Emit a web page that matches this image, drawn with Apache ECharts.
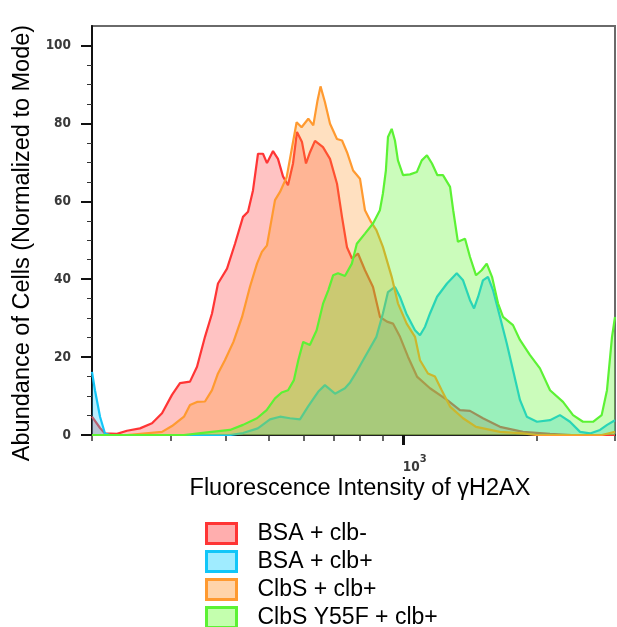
<!DOCTYPE html>
<html>
<head>
<meta charset="utf-8">
<title>Fluorescence Intensity of γH2AX</title>
<script src="https://cdn.jsdelivr.net/npm/echarts@6/dist/echarts.min.js"></script>
<style>
  html, body { margin: 0; padding: 0; background: #fff; }
  #chart { width: 617px; height: 627px; }
</style>
</head>
<body>
<div id="chart"></div>
<script>
// [intensity, % of mode]
const bsaClbMinus = [
  [200, 4.7], [208.5, 1.8], [213.9, 0.4], [227.6, 0.3], [239.7, 1.1], [256.4, 1.7], [272.9, 3.0],
  [287.4, 5.6], [302.6, 10.3], [315.4, 13.3], [332.2, 13.7], [344.5, 17.5], [359, 25.2], [372.3, 31.2],
  [384, 38.9], [402.4, 42.7], [419.4, 49.1], [437.1, 56], [448.6, 57.3], [460.3, 62.8], [472.4, 72.2],
  [484.8, 72.2], [494.9, 69.8], [510.6, 72.9], [523.9, 70.9], [537.7, 66.4], [551.8, 64.1], [566.3, 69.7],
  [578.1, 77.8], [593.3, 75.2], [605.7, 69.7], [618.4, 72.6], [634.6, 75.5], [661.4, 73.9], [685.8, 70.9],
  [711.2, 64.5], [729.8, 56], [748.9, 48.2], [768.6, 45.3], [792.8, 46.6], [822.1, 42.3], [856.9, 38],
  [888.5, 30.3], [921.3, 29.1], [950.4, 28.6], [985.5, 25.2], [1027, 20.1], [1076, 15], [1151, 12],
  [1257, 9], [1344, 6.4], [1416, 6.2], [1514, 4.3], [1654, 2.1], [1863, 0.8], [2143, 0.3], [2400, 0], [3000, 0]
]
const bsaClbPlus = [
  [200, 16.2], [203.1, 11.5], [208.5, 4.7], [213.9, 0.4], [220, 0], [408.6, 0], [437.1, 0.5], [472, 1.7],
  [502.7, 4], [529.4, 4.7], [557.5, 4.3], [587.2, 4], [612, 7.3], [645, 11.1], [668, 12.8], [704, 10.6],
  [741, 12], [761, 13.5], [785, 16], [814, 19.2], [872, 25.2], [902, 31.2], [926, 36.7], [960, 38],
  [985, 35.5], [1018, 31.2], [1065, 26.9], [1093, 25.6], [1122, 27.8], [1151, 31.2], [1194, 35.5],
  [1257, 38.9], [1322, 41.5], [1366, 39.7], [1416, 34.6], [1446, 32.5], [1477, 35.5], [1514, 39.7],
  [1554, 40.6], [1595, 37.2], [1654, 30.3], [1713, 23.5], [1769, 16.7], [1834, 9], [1900, 4.7],
  [2003, 3.4], [2143, 3.8], [2256, 5.1], [2376, 3.4], [2503, 0.8], [2636, 0.4], [2776, 1.3], [2880, 2.6], [3000, 3.8]
]
const clbsClbPlus = [
  [200, 0], [239.7, 0], [287.4, 0.8], [302.6, 2.3], [322, 4.7], [332.2, 7.7], [344.5, 8.5], [359, 8.6],
  [372.3, 11.5], [384, 15.8], [398, 19.2], [416, 23.9], [435, 30.3], [453, 38], [470, 44], [482, 47],
  [494.9, 48.7], [508, 56], [515.9, 60.3], [529.4, 62.4], [548, 66.2], [562, 73.1], [577, 80.3], [592, 79],
  [613, 81.2], [629, 79.5], [643, 85.9], [653, 89.5], [668, 85.5], [686, 79.9], [711, 76], [730, 75.6],
  [749, 72.6], [773, 67.9], [801, 65.8], [822, 57.7], [848, 54.7], [872, 52.6], [902, 48.3], [944, 40.6],
  [975, 33.8], [1020, 28.6], [1065, 25.2], [1093, 19.2], [1139, 15.8], [1181, 15], [1223, 11.5],
  [1277, 7.3], [1366, 4.3], [1461, 2.1], [1654, 0.8], [1863, 0.4], [2000, 0], [2800, 0], [3000, 0.8]
]
const y55fClbPlus = [
  [200, 0], [322, 0], [359, 0.6], [408.6, 1.3], [437.1, 2.6], [470, 4.3], [494, 6.4], [515.9, 9.4],
  [534, 10.9], [552, 11.5], [569, 14.1], [582, 19.2], [597, 23.9], [618, 23.1], [640, 26.9], [662, 33.8],
  [680, 37.2], [697, 41], [715, 41.5], [741, 40.8], [768, 44], [788, 49.1], [822, 51.7], [857, 54.3],
  [888, 57.7], [902, 62], [916, 67.9], [926, 76.5], [944, 78.6], [960, 75.6], [975, 70.5], [1001, 66.7],
  [1038, 66.9], [1075, 67.5], [1103, 70.5], [1133, 71.8], [1163, 69.7], [1196, 66.7], [1231, 66.7],
  [1277, 63.7], [1298, 57.7], [1330, 49.6], [1380, 50.4], [1416, 45.7], [1461, 41], [1504, 42.3],
  [1544, 44], [1587, 40.6], [1637, 33.8], [1680, 30.3], [1769, 28.2], [1834, 24.4], [1932, 20.5],
  [2034, 17.1], [2143, 11.5], [2292, 8.5], [2414, 5.1], [2542, 3.4], [2677, 3.4], [2800, 5.1],
  [2878, 11.5], [2954, 25.2], [3000, 30.3]
]

const seriesNames = ['BSA + clb-', 'BSA + clb+', 'ClbS + clb+', 'ClbS Y55F + clb+']
const lineColors = ['#ff3535', '#12c6f8', '#ff9a30', '#5cf234']
const fillColors = ['rgba(255,60,60,0.44)', 'rgba(20,200,255,0.44)', 'rgba(255,150,40,0.42)', 'rgba(90,245,40,0.45)']
const iconFills = ['#ffaeae', '#a0ecff', '#ffd4aa', '#c4ffae']

const xMinorTicks = [200, 300, 400, 500, 600, 700, 800, 900, 2000, 3000]
const xMajorTicks = [1000]
const yMajorTicks = [0, 20, 40, 60, 80, 100]
const yMinorTicks = [5, 10, 15, 25, 30, 35, 45, 50, 55, 65, 70, 75, 85, 90, 95]

const toLog = d => [Math.log10(d[0]), d[1]]
const xMin = Math.log10(200)
const xMax = Math.log10(3000)

const chart = echarts.init(document.getElementById('chart'))

// drawn bottom to top: red, cyan, orange, green
const allData = [bsaClbMinus, bsaClbPlus, clbsClbPlus, y55fClbPlus]

const series = allData.map((d, i) => ({
  name: seriesNames[i],
  type: 'line',
  data: d.map(toLog),
  showSymbol: false,
  smooth: false,
  z: 2 + i,
  lineStyle: { color: lineColors[i], width: 2.2 },
  itemStyle: { color: lineColors[i] },
  areaStyle: { color: fillColors[i], origin: 'start' },
  animation: false
}))

const tickFont = {
  fontFamily: '"Liberation Sans Narrow", "DejaVu Sans Condensed", sans-serif',
  fontWeight: 'bold',
  fontSize: 13.5,
  color: '#3a3a3a'
}
const titleFont = {
  fontFamily: '"Liberation Sans", Arial, sans-serif',
  fontSize: 23.5,
  color: '#000'
}

chart.setOption({
  backgroundColor: '#fff',
  animation: false,
  grid: {
    left: 92,
    right: 2,
    top: 26,
    bottom: 192,
    show: true,
    borderColor: '#6a6a6a',
    borderWidth: 2,
    backgroundColor: 'transparent'
  },
  legend: {
    orient: 'vertical',
    left: 205,
    top: 522,
    height: 120,
    padding: 0,
    itemWidth: 30,
    itemHeight: 20,
    itemGap: 5,
    icon: 'rect',
    selectedMode: false,
    textStyle: Object.assign({}, titleFont, { fontSize: 23, lineHeight: 20, padding: [0, 0, 0, 16] }),
    data: seriesNames.map((n, i) => ({
      name: n,
      itemStyle: { color: iconFills[i], borderColor: lineColors[i], borderWidth: 3 }
    }))
  },
  xAxis: [
    {
      type: 'value',
      min: xMin,
      max: xMax,
      name: 'Fluorescence Intensity of γH2AX',
      nameLocation: 'middle',
      nameGap: 42,
      nameTextStyle: Object.assign({}, titleFont, { padding: [0, 0, 0, 13] }),
      axisLine: { show: true, onZero: false, lineStyle: { color: '#222', width: 2 } },
      axisTick: {
        show: true,
        length: 6,
        customValues: xMinorTicks.map(v => Math.log10(v)),
        lineStyle: { color: '#333', width: 1.5 }
      },
      axisLabel: { show: false },
      splitLine: { show: false }
    },
    {
      type: 'value',
      min: xMin,
      max: xMax,
      position: 'bottom',
      axisLine: { show: false },
      axisTick: {
        show: true,
        length: 10,
        customValues: xMajorTicks.map(v => Math.log10(v)),
        lineStyle: { color: '#111', width: 3 }
      },
      axisLabel: {
        show: true,
        customValues: xMajorTicks.map(v => Math.log10(v)),
        margin: 19,
        align: 'left',
        formatter: v => '{a|10}{b|' + Math.round(v) + '}',
        rich: {
          a: Object.assign({}, tickFont, { lineHeight: 20, verticalAlign: 'bottom' }),
          b: Object.assign({}, tickFont, { fontSize: 11, lineHeight: 11, verticalAlign: 'top' })
        }
      },
      splitLine: { show: false }
    }
  ],
  yAxis: [
    {
      type: 'value',
      min: 0,
      max: 105,
      name: 'Abundance of Cells (Normalized to Mode)',
      nameLocation: 'middle',
      nameGap: 57,
      nameTextStyle: Object.assign({}, titleFont, { padding: [0, 25, 0, 0] }),
      axisLine: { show: true, onZero: false, lineStyle: { color: '#111', width: 2 } },
      axisTick: {
        show: true,
        length: 11,
        customValues: yMajorTicks,
        lineStyle: { color: '#111', width: 2 }
      },
      axisLabel: Object.assign({ show: true, margin: 21, customValues: yMajorTicks }, tickFont),
      splitLine: { show: false }
    },
    {
      type: 'value',
      min: 0,
      max: 105,
      position: 'left',
      axisLine: { show: false },
      axisTick: {
        show: true,
        length: 5,
        customValues: yMinorTicks,
        lineStyle: { color: '#333', width: 1 }
      },
      axisLabel: { show: false },
      splitLine: { show: false }
    }
  ],
  series: series
})
</script>
</body>
</html>
